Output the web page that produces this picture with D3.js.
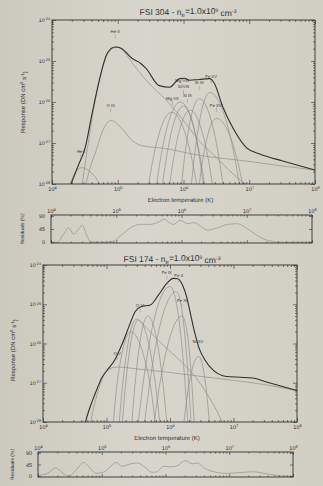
<!DOCTYPE html>
<html>
<head>
<meta charset="utf-8">
<script src="https://cdn.jsdelivr.net/npm/d3@7"></script>
<style>
  body { margin: 0; background: #d3d0c5; }
  svg { display: block; font-family: "Liberation Sans", Arial, sans-serif; text-rendering: geometricPrecision; }
</style>
</head>
<body>
<svg id="chart" width="323" height="486"></svg>
<script>
// all curves are [log10 T, log10 response]
var expX = [4, 5, 6, 7, 8];
var expY = [-28, -27, -26, -25, -24];
var resTicks = [0, 45, 90];

// ---- FSI 304 ----
var total304 = [[4.29,-28.0],[4.35,-27.75],[4.41,-27.51],[4.5,-27.14],[4.61,-26.28],[4.72,-25.47],[4.84,-24.81],[4.96,-24.66],[5.05,-24.69],[5.22,-24.94],[5.35,-25.06],[5.43,-25.18],[5.63,-25.6],[5.79,-25.64],[5.94,-25.43],[6.02,-25.42],[6.09,-25.47],[6.24,-25.45],[6.4,-25.43],[6.47,-25.55],[6.6,-26.13],[6.75,-26.63],[6.96,-27.12],[7.16,-27.27],[7.51,-27.44],[8.0,-27.66]];
var heI304 = [[4.25,-28.08],[4.31,-27.86],[4.36,-27.7],[4.45,-27.6],[4.58,-27.7],[4.67,-27.86],[4.75,-28.08]];
var heII304 = [[4.44,-28.2],[4.5,-27.55],[4.6,-26.5],[4.7,-25.6],[4.8,-25.0],[4.9,-24.72],[5.0,-24.66],[5.1,-24.78],[5.22,-25.05],[5.45,-25.5],[5.74,-25.96],[6.0,-26.45],[6.24,-26.95],[6.5,-27.35],[6.75,-27.75],[6.98,-28.05]];
var oIII304 = [[4.5,-28.1],[4.6,-27.5],[4.67,-27.19],[4.77,-26.7],[4.9,-26.45],[5.07,-26.66],[5.22,-26.94],[5.38,-27.07],[5.7,-27.13],[6.24,-27.3],[7.0,-27.45],[7.5,-27.56],[8.0,-27.66]];
var mgVII304 = [[5.435,-28.37],[5.54,-27.37],[5.645,-26.69],[5.82,-26.25],[6.01,-26.69],[6.124,-27.37],[6.238,-28.37]];
var mgVIII304 = [[5.554,-28.42],[5.662,-27.28],[5.77,-26.5],[5.95,-26.0],[6.135,-26.5],[6.246,-27.28],[6.357,-28.42]];
var siVIII304 = [[5.648,-28.4],[5.744,-27.32],[5.84,-26.58],[6.0,-26.1],[6.15,-26.58],[6.24,-27.32],[6.33,-28.4]];
var siIX304 = [[5.759,-28.38],[5.852,-27.35],[5.945,-26.65],[6.1,-26.2],[6.27,-26.65],[6.372,-27.35],[6.474,-28.38]];
var siXI304 = [[5.943,-28.44],[6.024,-27.25],[6.105,-26.44],[6.24,-25.92],[6.42,-26.44],[6.528,-27.25],[6.636,-28.44]];
var feXV304 = [[6.092,-28.47],[6.176,-27.2],[6.26,-26.33],[6.4,-25.77],[6.625,-26.33],[6.76,-27.2],[6.895,-28.47]];
var feXVI304 = [[6.214,-28.34],[6.292,-27.42],[6.37,-26.8],[6.5,-26.4],[6.7,-26.8],[6.82,-27.42],[6.94,-28.34]];
var comps304 = [heI304, heII304, oIII304, mgVII304, mgVIII304, siVIII304, siIX304, siXI304, feXV304, feXVI304];
var names304 = ["He I", "He II", "O III", "Mg VII", "Mg VIII", "Si VIII", "Si IX", "Si XI", "Fe XV", "Fe XVI"];
var labelAt304 = [[4.44,-27.24],[4.96,-24.32],[4.89,-26.11],[5.83,-25.94],[5.98,-25.52],[6.0,-25.67],[6.06,-25.89],[6.24,-25.57],[6.42,-25.42],[6.5,-26.11]];
var resid304 = [[4.0,0],[4.1,0],[4.19,27],[4.27,49],[4.35,27],[4.4,38],[4.48,58],[4.54,27],[4.61,1],[4.75,0],[4.94,2],[5.06,21],[5.22,49],[5.37,61],[5.52,61],[5.63,67],[5.74,78],[5.81,67],[5.88,61],[5.98,75],[6.09,63],[6.19,67],[6.29,55],[6.4,41],[6.55,49],[6.71,61],[6.86,63],[7.02,44],[7.22,15],[7.48,0],[8.0,0]];

// ---- FSI 174 ----
var total174 = [[4.66,-28.05],[4.72,-27.72],[4.78,-27.45],[4.86,-27.12],[4.93,-26.86],[5.0,-26.7],[5.13,-26.42],[5.24,-26.04],[5.37,-25.5],[5.45,-25.19],[5.55,-25.06],[5.69,-25.02],[5.82,-24.76],[5.95,-24.47],[6.05,-24.34],[6.12,-24.35],[6.2,-24.52],[6.26,-24.8],[6.31,-25.15],[6.39,-25.73],[6.47,-26.17],[6.55,-26.42],[6.68,-26.68],[6.89,-26.84],[7.1,-26.86],[7.3,-26.88],[7.52,-26.98],[8.0,-27.2]];
var cont174 = [[4.74,-28.1],[4.8,-27.62],[4.87,-27.2],[4.94,-26.88],[5.02,-26.68],[5.15,-26.6],[5.5,-26.65],[6.0,-26.74],[6.5,-26.84],[7.0,-26.94],[7.5,-27.05],[8.0,-27.2]];
var oV174 = [[5.072,-28.78],[5.156,-27.17],[5.24,-26.28],[5.38,-25.7],[5.58,-26.28],[5.7,-27.17],[5.82,-28.78]];
var oVI174 = [[5.173,-28.55],[5.254,-27.06],[5.335,-26.04],[5.47,-25.38],[5.6,-25.55],[5.8,-25.9],[6.0,-26.2],[6.2,-26.5],[6.4,-26.85],[6.55,-27.2],[6.7,-27.6],[6.85,-28.1]];
var oVIb174 = [[5.225,-28.55],[5.3,-27.06],[5.375,-26.05],[5.5,-25.4],[5.67,-26.05],[5.772,-27.06],[5.874,-28.55]];
var feVIII174 = [[5.375,-28.57],[5.45,-27.03],[5.525,-25.98],[5.65,-25.3],[5.8,-25.98],[5.89,-27.03],[5.98,-28.57]];
var feIX174 = [[5.45,-28.74],[5.6,-26.74],[5.75,-25.38],[6.0,-24.55],[6.14,-25.38],[6.224,-26.74],[6.308,-28.74]];
var feX174 = [[5.55,-28.7],[5.7,-26.79],[5.85,-25.49],[6.1,-24.68],[6.215,-25.49],[6.284,-26.79],[6.353,-28.7]];
var feXI174 = [[5.705,-28.57],[5.84,-27.03],[5.975,-25.98],[6.19,-25.3],[6.29,-25.98],[6.344,-27.03],[6.398,-28.57]];
var niXV174 = [[6.197,-28.35],[6.266,-27.4],[6.335,-26.75],[6.45,-26.33],[6.535,-26.75],[6.586,-27.4],[6.637,-28.35]];
var comps174 = [cont174, oV174, oVI174, oVIb174, feVIII174, feIX174, feX174, feXI174, niXV174];
var names174 = ["O V", "O VI", "Fe IX", "Fe X", "Fe XI", "Ni XV"];
var labelAt174 = [[5.17,-26.29],[5.53,-25.07],[5.95,-24.23],[6.14,-24.31],[6.19,-24.94],[6.44,-25.99]];
var resid174 = [[4.0,3],[4.15,11],[4.28,32],[4.39,11],[4.49,1],[4.59,22],[4.72,53],[4.8,36],[4.91,11],[5.04,17],[5.14,38],[5.22,53],[5.32,38],[5.43,46],[5.56,51],[5.66,38],[5.79,15],[5.87,17],[5.97,38],[6.08,36],[6.18,40],[6.31,60],[6.42,48],[6.5,51],[6.6,32],[6.76,17],[6.97,11],[7.17,14],[7.38,17],[7.59,9],[7.9,0],[8.0,0]];

var svg = d3.select("#chart");
var ink = "#2f2f2f", gray = "#8b8984";

var defs = svg.append("defs");
var grad = defs.append("linearGradient").attr("id", "paper").attr("x1", 0).attr("x2", 1);
grad.append("stop").attr("offset", "0%").attr("stop-color", "#ccc9be");
grad.append("stop").attr("offset", "45%").attr("stop-color", "#d8d6cc");
grad.append("stop").attr("offset", "100%").attr("stop-color", "#d1cec3");
svg.append("rect").attr("width", 323).attr("height", 486).attr("fill", "url(#paper)");

function sup(t, e) {
  t.text(null);
  t.append("tspan").text("10");
  t.append("tspan").attr("dy", "-0.45em").attr("font-size", "72%").text(e);
}

function isMajor(v) {
  var l = Math.log10(v);
  return Math.abs(l - Math.round(l)) < 1e-6;
}

function ticks(g, axis, tr, vals, size) {
  g.append("g").attr("transform", tr).attr("color", ink)
    .call(axis.tickValues(vals).tickSize(size).tickSizeOuter(0).tickFormat(function () { return ""; }))
    .call(function (s) { s.select(".domain").remove(); s.selectAll("line").attr("stroke-width", 0.6); });
}

function panel(L, total, comps, names, labelAt) {
  var x = d3.scaleLog().domain([1e4, 1e8]).range([L.x0, L.x1]);
  var y = d3.scaleLog().domain([1e-28, 1e-24]).range([L.y1, L.y0]);
  var g = svg.append("g");
  defs.append("clipPath").attr("id", "c" + L.id).append("rect")
    .attr("x", L.x0).attr("y", L.y0).attr("width", L.x1 - L.x0).attr("height", L.y1 - L.y0);

  var line = d3.line()
    .x(function (p) { return x(Math.pow(10, p[0])); })
    .y(function (p) { return y(Math.pow(10, p[1])); })
    .curve(d3.curveMonotoneX);

  var plot = g.append("g").attr("clip-path", "url(#c" + L.id + ")");
  plot.selectAll("path.comp").data(comps).join("path").attr("class", "comp")
    .attr("d", line).attr("fill", "none").attr("stroke", gray).attr("stroke-width", 0.65);
  plot.append("path").datum(total).attr("d", line)
    .attr("fill", "none").attr("stroke", ink).attr("stroke-width", 1.1);

  g.append("rect").attr("x", L.x0).attr("y", L.y0).attr("width", L.x1 - L.x0).attr("height", L.y1 - L.y0)
    .attr("fill", "none").attr("stroke", ink).attr("stroke-width", 0.9);

  var mx = x.ticks().filter(function (v) { return !isMajor(v); });
  var Mx = expX.map(function (e) { return Math.pow(10, e); });
  var my = y.ticks().filter(function (v) { return !isMajor(v); });
  var My = expY.map(function (e) { return Math.pow(10, e); });
  ticks(g, d3.axisBottom(x), "translate(0," + L.y1 + ")", mx, -2);
  ticks(g, d3.axisBottom(x), "translate(0," + L.y1 + ")", Mx, -4);
  ticks(g, d3.axisTop(x), "translate(0," + L.y0 + ")", mx, -2);
  ticks(g, d3.axisTop(x), "translate(0," + L.y0 + ")", Mx, -4);
  ticks(g, d3.axisLeft(y), "translate(" + L.x0 + ",0)", my, -2);
  ticks(g, d3.axisLeft(y), "translate(" + L.x0 + ",0)", My, -4);
  ticks(g, d3.axisRight(y), "translate(" + L.x1 + ",0)", my, -2);
  ticks(g, d3.axisRight(y), "translate(" + L.x1 + ",0)", My, -4);

  var xl = g.append("g").attr("transform", "translate(0," + (L.y1 + 3) + ")")
    .call(d3.axisBottom(x).tickValues(Mx).tickSize(0).tickPadding(0));
  xl.select(".domain").remove();
  xl.selectAll(".tick text").attr("font-size", 5.5).attr("fill", ink).attr("font-family", "Liberation Sans, Arial")
    .each(function (v) { sup(d3.select(this), Math.round(Math.log10(v))); });

  var yl = g.append("g").attr("transform", "translate(" + (L.x0 - 2) + ",0)")
    .call(d3.axisLeft(y).tickValues(My).tickSize(0).tickPadding(0));
  yl.select(".domain").remove();
  yl.selectAll(".tick text").attr("font-size", 5.2).attr("fill", ink).attr("font-family", "Liberation Sans, Arial")
    .each(function (v) { sup(d3.select(this), Math.round(Math.log10(v))); });

  // line labels
  names.forEach(function (n, i) {
    var px = x(Math.pow(10, labelAt[i][0])), py = y(Math.pow(10, labelAt[i][1]));
    g.append("text").attr("x", px).attr("y", py).attr("text-anchor", "middle")
      .attr("font-size", 4.3).attr("fill", "#333").text(n);
    g.append("line").attr("x1", px).attr("x2", px).attr("y1", py + 1.5).attr("y2", py + 5.5)
      .attr("stroke", gray).attr("stroke-width", 0.5);
  });

  // titles
  var t = g.append("text").attr("x", L.tx).attr("y", L.ty).attr("text-anchor", "middle")
    .attr("font-size", 8.5).attr("fill", ink);
  t.append("tspan").text(L.title + " - n");
  t.append("tspan").attr("font-size", "70%").attr("dy", "0.3em").text("e");
  t.append("tspan").attr("dy", "-0.3em").text("=1.0x10");
  t.append("tspan").attr("font-size", "60%").attr("dy", "-0.5em").text("9");
  t.append("tspan").attr("dy", "0.5em").text(" cm");
  t.append("tspan").attr("font-size", "60%").attr("dy", "-0.5em").text("-3");

  g.append("text").attr("x", (L.x0 + L.x1) / 2 - 3).attr("y", L.y1 + 18).attr("text-anchor", "middle")
    .attr("font-size", 6).attr("fill", ink).text("Electron temperature (K)");

  var yt = g.append("text").attr("transform", "translate(" + L.yx + "," + L.yy + ") rotate(-90)")
    .attr("text-anchor", "middle").attr("font-size", 6).attr("fill", ink);
  yt.append("tspan").text("Response (DN cm");
  yt.append("tspan").attr("font-size", "70%").attr("dy", "-0.45em").text("5");
  yt.append("tspan").attr("dy", "0.45em").text(" s");
  yt.append("tspan").attr("font-size", "70%").attr("dy", "-0.45em").text("-1");
  yt.append("tspan").attr("dy", "0.45em").text(")");
}

function residual(R, data) {
  var x = d3.scaleLog().domain([1e4, 1e8]).range([R.x0, R.x1]);
  var y = d3.scaleLinear().domain([-3, 93]).range([R.y1, R.y0]);
  var g = svg.append("g");
  var line = d3.line()
    .x(function (p) { return x(Math.pow(10, p[0])); })
    .y(function (p) { return y(p[1]); })
    .curve(d3.curveMonotoneX);
  g.append("path").datum(data).attr("d", line).attr("fill", "none")
    .attr("stroke", "#9a9892").attr("stroke-width", 0.8);
  g.append("rect").attr("x", R.x0).attr("y", R.y0).attr("width", R.x1 - R.x0).attr("height", R.y1 - R.y0)
    .attr("fill", "none").attr("stroke", ink).attr("stroke-width", 0.9);

  var mx = x.ticks().filter(function (v) { return !isMajor(v); });
  var Mx = expX.map(function (e) { return Math.pow(10, e); });
  ticks(g, d3.axisBottom(x), "translate(0," + R.y1 + ")", mx, -1.5);
  ticks(g, d3.axisBottom(x), "translate(0," + R.y1 + ")", Mx, -3);
  ticks(g, d3.axisTop(x), "translate(0," + R.y0 + ")", mx, -1.5);
  ticks(g, d3.axisTop(x), "translate(0," + R.y0 + ")", Mx, -3);
  ticks(g, d3.axisLeft(y), "translate(" + R.x0 + ",0)", resTicks, -3);
  ticks(g, d3.axisRight(y), "translate(" + R.x1 + ",0)", resTicks, -3);

  var xl = g.append("g").attr("transform", "translate(0," + (R.y0 - 2) + ")")
    .call(d3.axisTop(x).tickValues(Mx).tickSize(0).tickPadding(0));
  xl.select(".domain").remove();
  xl.selectAll(".tick text").attr("font-size", 5.5).attr("fill", ink).attr("font-family", "Liberation Sans, Arial")
    .each(function (v) { sup(d3.select(this), Math.round(Math.log10(v))); });

  var yl = g.append("g").attr("transform", "translate(" + (R.x0 - 6) + ",0)")
    .call(d3.axisLeft(y).tickValues(resTicks).tickSize(0).tickPadding(0));
  yl.select(".domain").remove();
  yl.selectAll(".tick text").attr("font-size", 5.5).attr("fill", ink).attr("font-family", "Liberation Sans, Arial");

  g.append("text").attr("transform", "translate(" + R.lx + "," + ((R.y0 + R.y1) / 2) + ") rotate(-90)")
    .attr("text-anchor", "middle").attr("font-size", 5).attr("fill", ink).text("Residuals (%)");
}

panel({ id: "a", x0: 52, x1: 315, y0: 20, y1: 184, tx: 188, ty: 15, yx: 25, yy: 102, title: "FSI 304" },
  total304, comps304, names304, labelAt304);
residual({ x0: 51, x1: 312, y0: 215, y1: 243, lx: 24 }, resid304);

panel({ id: "b", x0: 43, x1: 297, y0: 265, y1: 422, tx: 172, ty: 262, yx: 15, yy: 350, title: "FSI 174" },
  total174, comps174, names174, labelAt174);
residual({ x0: 38, x1: 293, y0: 452, y1: 477, lx: 14 }, resid174);
</script>
</body>
</html>
